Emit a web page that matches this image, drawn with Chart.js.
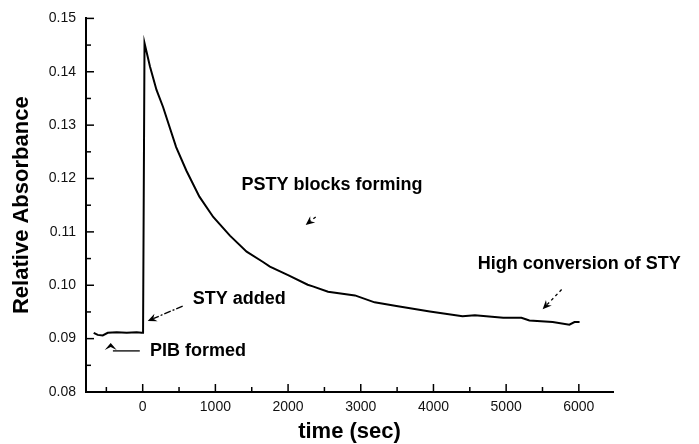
<!DOCTYPE html>
<html>
<head>
<meta charset="utf-8">
<script src="https://cdn.jsdelivr.net/npm/chart.js@4.4.0/dist/chart.umd.min.js"></script>
<style>
  html, body { margin: 0; padding: 0; background: #fff; }
  #chart { display: block; }
</style>
</head>
<body>
<canvas id="chart" width="699" height="444"></canvas>
<script>
// time (s) and relative absorbance
const timeSec = [
  -674, -619, -550, -481, -358, -220, -83, -14, 5,
  25, 100, 190, 280, 460, 600, 780, 970, 1200, 1430, 1650, 1750,
  2000, 2270, 2340, 2550, 2920, 3190, 3490, 3950, 4400, 4570,
  4960, 5210, 5320, 5640, 5870, 5940, 6010
];
const absorbance = [
  0.0911, 0.0907, 0.0906, 0.0911, 0.0912, 0.0911, 0.0912, 0.0911, 0.0911,
  0.1454, 0.1410, 0.1366, 0.1334, 0.1259, 0.1215, 0.1166, 0.1128, 0.1093, 0.1063, 0.1044, 0.1035,
  0.1019, 0.1001, 0.0998, 0.0988, 0.0981, 0.0968, 0.0961, 0.0951, 0.0942, 0.0944,
  0.0939, 0.0939, 0.0934, 0.0931, 0.0926, 0.0931, 0.0931
];

const xMajorTicks = [0, 1000, 2000, 3000, 4000, 5000, 6000];
const xMinorTicks = [-500, 500, 1500, 2500, 3500, 4500, 5500];
const yMajorTicks = [0.08, 0.09, 0.10, 0.11, 0.12, 0.13, 0.14, 0.15];
const yMinorTicks = [0.085, 0.095, 0.105, 0.115, 0.125, 0.135, 0.145];

// annotation texts and arrows, placed in data units
const notes = [
  { text: "PSTY blocks forming", t: 1360, v: 0.1188 },
  { text: "High conversion of STY", t: 4610, v: 0.1039 },
  { text: "STY added", t: 690, v: 0.0974 },
  { text: "PIB formed", t: 100, v: 0.0877 }
];
const arrows = [
  { from: [2380, 0.1128], to: [2242, 0.1113], dash: [3, 3] },
  { from: [5763, 0.0992], to: [5502, 0.0955], dash: [3, 3] },
  { from: [550, 0.0961], to: [69, 0.0933], dash: [7, 2, 2, 2] }
];

const FONT = '"Liberation Sans", Arial, Helvetica, sans-serif';

const inwardTicks = {
  id: "inwardTicks",
  afterDraw(chart) {
    const ctx = chart.ctx;
    const x = chart.scales.x, y = chart.scales.y;
    const left = chart.chartArea.left, bottom = chart.chartArea.bottom;
    ctx.save();
    ctx.strokeStyle = "#000";
    ctx.lineWidth = 1.5;
    const tickX = (vals, len) => vals.forEach(v => {
      const px = x.getPixelForValue(v);
      ctx.beginPath(); ctx.moveTo(px, bottom); ctx.lineTo(px, bottom - len); ctx.stroke();
    });
    const tickY = (vals, len) => vals.forEach(v => {
      const py = y.getPixelForValue(v);
      ctx.beginPath(); ctx.moveTo(left, py); ctx.lineTo(left + len, py); ctx.stroke();
    });
    tickX(xMajorTicks, 8);
    tickX(xMinorTicks, 5);
    tickY(yMajorTicks, 8);
    tickY(yMinorTicks, 5);
    ctx.restore();
  }
};

const annotations = {
  id: "annotations",
  afterDraw(chart) {
    const ctx = chart.ctx;
    const x = chart.scales.x, y = chart.scales.y;
    ctx.save();
    ctx.fillStyle = "#000";
    ctx.font = "bold 18px " + FONT;
    ctx.textAlign = "left";
    ctx.textBaseline = "middle";
    notes.forEach(n => ctx.fillText(n.text, x.getPixelForValue(n.t), y.getPixelForValue(n.v)));

    arrows.forEach(a => {
      const x1 = x.getPixelForValue(a.from[0]), y1 = y.getPixelForValue(a.from[1]);
      const x2 = x.getPixelForValue(a.to[0]), y2 = y.getPixelForValue(a.to[1]);
      const ang = Math.atan2(y2 - y1, x2 - x1);
      ctx.strokeStyle = "#000";
      ctx.lineWidth = 1.3;
      ctx.setLineDash(a.dash);
      ctx.beginPath();
      ctx.moveTo(x1, y1);
      ctx.lineTo(x2 - 6 * Math.cos(ang), y2 - 6 * Math.sin(ang));
      ctx.stroke();
      ctx.setLineDash([]);
      ctx.beginPath();
      ctx.moveTo(x2, y2);
      ctx.lineTo(x2 - 9 * Math.cos(ang) + 4 * Math.sin(ang), y2 - 9 * Math.sin(ang) - 4 * Math.cos(ang));
      ctx.lineTo(x2 - 6 * Math.cos(ang), y2 - 6 * Math.sin(ang));
      ctx.lineTo(x2 - 9 * Math.cos(ang) - 4 * Math.sin(ang), y2 - 9 * Math.sin(ang) + 4 * Math.cos(ang));
      ctx.closePath();
      ctx.fill();
    });

    // "PIB formed" pointer: caret and a leader line
    const cx = x.getPixelForValue(-440), cy = y.getPixelForValue(0.0886);
    ctx.beginPath();
    ctx.moveTo(cx - 6, cy + 4);
    ctx.lineTo(cx, cy - 3);
    ctx.lineTo(cx + 6, cy + 4);
    ctx.lineTo(cx, cy + 1);
    ctx.closePath();
    ctx.fill();
    const ly = y.getPixelForValue(0.0877);
    ctx.lineWidth = 1.3;
    ctx.beginPath();
    ctx.moveTo(x.getPixelForValue(-410), ly);
    ctx.lineTo(x.getPixelForValue(-40), ly);
    ctx.stroke();
    ctx.restore();
  }
};

new Chart(document.getElementById("chart"), {
  type: "line",
  data: {
    datasets: [{
      data: timeSec.map((t, i) => ({ x: t, y: absorbance[i] })),
      borderColor: "#000",
      borderWidth: 2,
      pointRadius: 0,
      tension: 0,
      fill: false
    }]
  },
  options: {
    responsive: false,
    devicePixelRatio: 1,
    animation: false,
    layout: { padding: { top: 17, right: 86, bottom: 0, left: 0 } },
    plugins: { legend: { display: false }, tooltip: { enabled: false } },
    scales: {
      x: {
        type: "linear",
        min: -780,
        max: 6470,
        grid: { display: false, drawTicks: false },
        border: { display: true, color: "#000", width: 2 },
        afterBuildTicks: s => { s.ticks = xMajorTicks.map(v => ({ value: v })); },
        afterFit: s => { s.height = 52; },
        ticks: {
          padding: 7,
          color: "#111",
          font: { family: FONT, size: 14 },
          callback: v => String(v)
        },
        title: {
          display: true,
          text: "time (sec)",
          color: "#000",
          font: { family: FONT, size: 22, weight: "bold", lineHeight: 1.1 },
          padding: { top: 0, bottom: 0 }
        }
      },
      y: {
        min: 0.08,
        max: 0.15,
        grid: { display: false, drawTicks: false },
        border: { display: true, color: "#000", width: 2 },
        afterBuildTicks: s => { s.ticks = yMajorTicks.map(v => ({ value: v })); },
        afterFit: s => { s.width = 86; },
        ticks: {
          padding: 10,
          color: "#111",
          font: { family: FONT, size: 14 },
          callback: v => v.toFixed(2)
        },
        title: {
          display: true,
          text: "Relative Absorbance",
          color: "#000",
          font: { family: FONT, size: 22, weight: "bold" },
          padding: { top: 9, bottom: 0 }
        }
      }
    }
  },
  plugins: [inwardTicks, annotations]
});
</script>
</body>
</html>
